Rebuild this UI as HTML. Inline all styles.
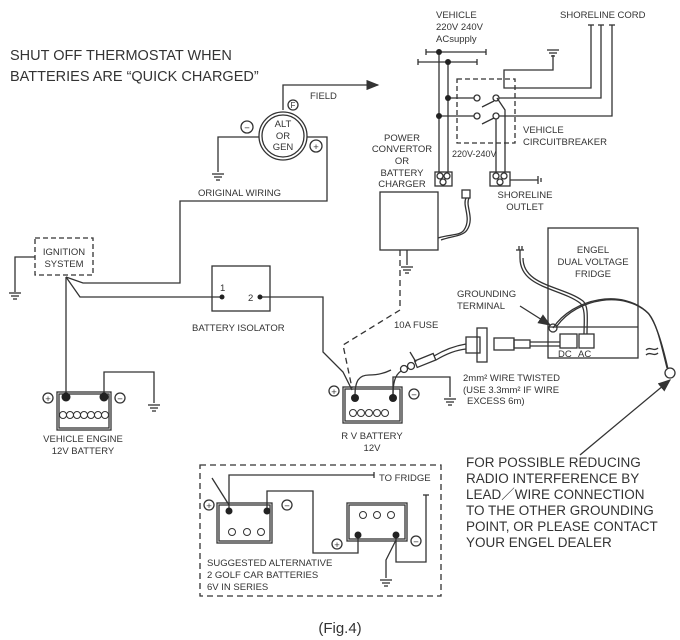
<!DOCTYPE html>
<html><head><style>
body{margin:0;background:#fff}
svg{display:block}
text{font-family:"Liberation Sans",sans-serif;fill:#333}
</style></head><body>
<svg width="680" height="640" viewBox="0 0 680 640" xmlns="http://www.w3.org/2000/svg">
<defs>
<g id="gnd"><line x1="-6" y1="0" x2="6" y2="0"/><line x1="-4" y1="3" x2="4" y2="3"/><line x1="-2" y1="6" x2="2" y2="6"/></g>
<marker id="ah" markerWidth="10" markerHeight="8" refX="9" refY="4" orient="auto"><path d="M0,0L10,4L0,8z" fill="#333"/></marker>
</defs>
<g stroke="#333" stroke-width="1.3" fill="none">
<polyline points="283,110 283,85 378,85" marker-end="url(#ah)"/>
<circle cx="283" cy="136" r="24"/><circle cx="283" cy="136" r="21"/>
<circle cx="293" cy="105" r="5"/><circle cx="247" cy="127" r="6"/><circle cx="316" cy="146" r="6"/>
<polyline points="259,137 218,137 218,172"/>
<use href="#gnd" x="218" y="174"/>
<polyline points="307,137 327,137 327,201 180,201 180,283 83,283 66,277"/>
<rect x="35" y="238" width="58" height="37" stroke-dasharray="5,3"/>
<polyline points="35,257 15,257 15,292"/><use href="#gnd" x="15" y="293"/>
<line x1="66" y1="277" x2="66" y2="397"/>
<polyline points="66,277 80,297 222,297"/>
<rect x="212" y="266" width="58" height="45"/>
<polyline points="260,297 323,297 323,352 343,372 352,390"/>
<rect x="57" y="392" width="54" height="38"/><rect x="59" y="394" width="50" height="34"/>
<circle cx="48" cy="398" r="5"/><circle cx="120" cy="398" r="5"/>
<polyline points="104,397 104,372 154,372 154,403"/><use href="#gnd" x="154" y="405"/>
<g stroke-width="1"><circle cx="63" cy="415" r="3.5"/><circle cx="70" cy="415" r="3.5"/><circle cx="77" cy="415" r="3.5"/><circle cx="84" cy="415" r="3.5"/><circle cx="91" cy="415" r="3.5"/><circle cx="98" cy="415" r="3.5"/><circle cx="105" cy="415" r="3.5"/></g>
<line x1="426" y1="52" x2="486" y2="52"/><line x1="426" y1="49" x2="426" y2="55"/><line x1="486" y1="49" x2="486" y2="55"/>
<line x1="418" y1="62" x2="477" y2="62"/><line x1="418" y1="59" x2="418" y2="65"/><line x1="477" y1="59" x2="477" y2="65"/>
<line x1="439" y1="52" x2="439" y2="172"/><line x1="448" y1="62" x2="448" y2="172"/>
<line x1="448" y1="98" x2="474" y2="98"/><line x1="439" y1="116" x2="474" y2="116"/>
<circle cx="477" cy="98" r="3"/><circle cx="496" cy="98" r="3"/><circle cx="477" cy="116" r="3"/><circle cx="496" cy="116" r="3"/>
<line x1="482" y1="107" x2="494" y2="101"/><line x1="482" y1="124" x2="494" y2="118"/>
<rect x="457" y="79" width="58" height="64" stroke-dasharray="5,3"/>
<polyline points="499,98 601,98 601,25"/><polyline points="499,116 612,116 612,25"/>
<polyline points="591,25 591,88 504,88 504,70 553,70 553,55"/><use href="#gnd" x="553" y="50"/>
<line x1="588" y1="25" x2="594" y2="25"/><line x1="598" y1="25" x2="604" y2="25"/><line x1="609" y1="25" x2="615" y2="25"/>
<line x1="496" y1="119" x2="496" y2="172"/><polyline points="497,98 505,110 505,172"/>
<rect x="435" y="172" width="17" height="14"/><circle cx="440" cy="176" r="3"/><circle cx="447" cy="176" r="3"/><circle cx="443" cy="182" r="3"/>
<rect x="490" y="172" width="20" height="14"/><circle cx="496" cy="176" r="3"/><circle cx="504" cy="176" r="3"/><circle cx="500" cy="182" r="3"/>
<line x1="510" y1="180" x2="538" y2="180"/><line x1="538" y1="176" x2="538" y2="184"/><line x1="541" y1="178" x2="541" y2="182"/>
<rect x="380" y="192" width="58" height="58"/>
<path d="M466,198 c-4,8 6,20 -2,32 c-4,6 -14,4 -26,8"/><path d="M469,198 c-4,8 6,20 -2,32 c-4,6 -14,6 -26,10"/>
<rect x="462" y="190" width="8" height="8"/>
<line x1="407" y1="250" x2="407" y2="265"/><use href="#gnd" x="407" y="267"/>
<polyline points="400,250 400,310 343,345 352,388" stroke-dasharray="6,4"/>
<rect x="343" y="387" width="59" height="36"/><rect x="345" y="389" width="55" height="32"/>
<circle cx="334" cy="391" r="5"/><circle cx="414" cy="394" r="5"/>
<g stroke-width="1"><circle cx="353" cy="413" r="3.5"/><circle cx="361" cy="413" r="3.5"/><circle cx="369" cy="413" r="3.5"/><circle cx="377" cy="413" r="3.5"/><circle cx="385" cy="413" r="3.5"/></g>
<polyline points="393,395 393,377 450,377 450,397"/><use href="#gnd" x="450" y="399"/>
<!-- DC cable -->
<path d="M355,395 c0,-14 4,-20 14,-20 c10,0 16,-2 22,-5"/>
<path d="M393,395 c0,-12 2,-20 8,-24"/>
<circle cx="404" cy="369" r="3.5"/><circle cx="411" cy="366" r="3.5"/>
<rect x="415" y="357" width="20" height="7" transform="rotate(-22 425 360)"/>
<line x1="416" y1="362" x2="410" y2="352"/>
<path d="M434,356 c10,-6 20,-10 32,-12"/><path d="M436,360 c10,-6 20,-10 30,-11"/>
<rect x="477" y="328" width="10" height="34"/><rect x="466" y="337" width="14" height="16"/>
<rect x="494" y="338" width="20" height="12"/><rect x="514" y="340" width="16" height="8"/>
<line x1="530" y1="342" x2="560" y2="342"/><line x1="530" y1="346" x2="560" y2="346"/>
<rect x="548" y="228" width="90" height="130"/><line x1="548" y1="327" x2="638" y2="327"/>
<rect x="560" y="334" width="17" height="14"/><rect x="579" y="334" width="15" height="14"/>
<path d="M520,258 c0,30 40,30 60,45 c6,5 4,20 4,31"/><path d="M523,258 c0,28 40,28 60,43 c6,5 4,20 4,33"/>
<circle cx="553" cy="328" r="4"/>
<path d="M553,328 c20,-30 70,-40 95,-15 c8,10 14,30 20,56"/><path d="M557,326 c20,-28 68,-36 92,-12 c8,10 12,30 18,54"/>
<path d="M646,350 c4,-4 8,2 12,-2 M646,355 c4,-4 8,2 12,-2"/>
<circle cx="670" cy="373" r="5"/>
<line x1="520" y1="306" x2="550" y2="325" marker-end="url(#ah)"/>
<line x1="516" y1="250" x2="524" y2="250"/><line x1="519" y1="246" x2="519" y2="250"/><line x1="522" y1="246" x2="522" y2="250"/><line x1="520" y1="250" x2="520" y2="258"/>
<line x1="580" y1="455" x2="670" y2="380" marker-end="url(#ah)"/>
<rect x="200" y="465" width="241" height="131" stroke-dasharray="6,4"/>
<rect x="217" y="503" width="55" height="40"/><rect x="219" y="505" width="51" height="36"/>
<rect x="347" y="503" width="60" height="38"/><rect x="349" y="505" width="56" height="34"/>
<circle cx="209" cy="505" r="5"/><circle cx="287" cy="505" r="5"/><circle cx="337" cy="544" r="5"/><circle cx="416" cy="541" r="5"/>
<g stroke-width="1"><circle cx="232" cy="532" r="3.5"/><circle cx="247" cy="532" r="3.5"/><circle cx="261" cy="532" r="3.5"/><circle cx="363" cy="515" r="3.5"/><circle cx="377" cy="515" r="3.5"/><circle cx="391" cy="515" r="3.5"/></g>
<polyline points="229,511 229,475 374,475"/><line x1="374" y1="472" x2="374" y2="478"/>
<line x1="229" y1="505" x2="212" y2="478"/>
<polyline points="267,511 267,491 313,491 313,553 358,553 358,535"/>
<polyline points="396,535 396,562 426,562 426,495"/><line x1="423" y1="495" x2="429" y2="495"/>
<polyline points="396,540 386,560 386,578"/><use href="#gnd" x="386" y="580"/>
</g>
<g fill="#222">
<circle cx="439" cy="52" r="3"/><circle cx="448" cy="62" r="3"/><circle cx="448" cy="98" r="3"/><circle cx="439" cy="116" r="3"/>
<circle cx="66" cy="397" r="4.5"/><circle cx="104" cy="397" r="4.5"/>
<circle cx="222" cy="297" r="2.5"/><circle cx="260" cy="297" r="2.5"/>
<circle cx="355" cy="398" r="4"/><circle cx="393" cy="398" r="4"/>
<circle cx="229" cy="511" r="3.5"/><circle cx="267" cy="511" r="3.5"/><circle cx="358" cy="535" r="3.5"/><circle cx="396" cy="535" r="3.5"/>
</g>
<g font-size="14.5">
<text x="10" y="60">SHUT OFF THERMOSTAT WHEN</text>
<text x="10" y="81">BATTERIES ARE “QUICK CHARGED”</text>
</g>
<g font-size="9.5">
<text x="310" y="99">FIELD</text>
<text x="283" y="127" text-anchor="middle">ALT</text><text x="283" y="139" text-anchor="middle">OR</text><text x="283" y="150" text-anchor="middle">GEN</text>
<text x="293" y="108" text-anchor="middle" font-size="8">F</text>
<text x="247" y="131" text-anchor="middle">−</text><text x="316" y="150" text-anchor="middle">+</text>
<text x="198" y="196">ORIGINAL WIRING</text>
<text x="64" y="255" text-anchor="middle">IGNITION</text><text x="64" y="267" text-anchor="middle">SYSTEM</text>
<text x="220" y="291">1</text><text x="248" y="301">2</text>
<text x="192" y="331">BATTERY ISOLATOR</text>
<text x="48" y="402" text-anchor="middle">+</text><text x="120" y="402" text-anchor="middle">−</text>
<text x="83" y="442" text-anchor="middle">VEHICLE ENGINE</text><text x="83" y="454" text-anchor="middle">12V BATTERY</text>
<text x="436" y="18">VEHICLE</text><text x="436" y="30">220V  240V</text><text x="436" y="42">ACsupply</text>
<text x="560" y="18">SHORELINE CORD</text>
<text x="523" y="133">VEHICLE</text><text x="523" y="145">CIRCUITBREAKER</text>
<text x="452" y="157" font-size="9">220V-240V</text>
<text x="402" y="141" text-anchor="middle">POWER</text><text x="402" y="152" text-anchor="middle">CONVERTOR</text><text x="402" y="164" text-anchor="middle">OR</text><text x="402" y="176" text-anchor="middle">BATTERY</text><text x="402" y="187" text-anchor="middle">CHARGER</text>
<text x="525" y="198" text-anchor="middle">SHORELINE</text><text x="525" y="210" text-anchor="middle">OUTLET</text>
<text x="593" y="253" text-anchor="middle">ENGEL</text><text x="593" y="265" text-anchor="middle">DUAL VOLTAGE</text><text x="593" y="277" text-anchor="middle">FRIDGE</text>
<text x="457" y="297">GROUNDING</text><text x="457" y="309">TERMINAL</text>
<text x="394" y="328">10A FUSE</text>
<text x="558" y="357">DC</text><text x="578" y="357">AC</text>
<text x="463" y="381">2mm² WIRE TWISTED</text><text x="463" y="393">(USE 3.3mm² IF WIRE</text><text x="467" y="404">EXCESS 6m)</text>
<text x="334" y="395" text-anchor="middle">+</text><text x="414" y="398" text-anchor="middle">−</text>
<text x="372" y="439" text-anchor="middle">R V BATTERY</text><text x="372" y="451" text-anchor="middle">12V</text>
<text x="379" y="481">TO FRIDGE</text>
<text x="209" y="509" text-anchor="middle">+</text><text x="287" y="509" text-anchor="middle">−</text><text x="337" y="548" text-anchor="middle">+</text><text x="416" y="545" text-anchor="middle">−</text>
<text x="207" y="566">SUGGESTED ALTERNATIVE</text><text x="207" y="578">2 GOLF CAR BATTERIES</text><text x="207" y="590">6V IN SERIES</text>
</g>
<g font-size="13.5">
<text x="466" y="467">FOR POSSIBLE REDUCING</text>
<text x="466" y="483">RADIO INTERFERENCE BY</text>
<text x="466" y="499">LEAD／WIRE CONNECTION</text>
<text x="466" y="515">TO THE OTHER GROUNDING</text>
<text x="466" y="531">POINT, OR PLEASE CONTACT</text>
<text x="466" y="547">YOUR ENGEL DEALER</text>
</g>
<text x="340" y="633" font-size="15" text-anchor="middle">(Fig.4)</text>
</svg>
</body></html>
